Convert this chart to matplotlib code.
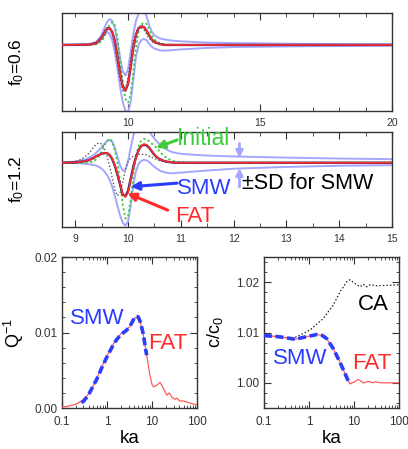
import matplotlib
matplotlib.use("Agg")
import matplotlib.pyplot as plt
from matplotlib.ticker import MultipleLocator, LogLocator, NullFormatter, FormatStrFormatter, FixedLocator

plt.rcParams['font.family'] = ['Liberation Sans', 'DejaVu Sans']
plt.rcParams['mathtext.fontset'] = 'custom'
plt.rcParams['mathtext.rm'] = 'Liberation Sans'
plt.rcParams['mathtext.it'] = 'Liberation Sans'

# ---------------- data: panel 1 (f0 = 0.6) ----------------
x1 = [7.5, 8.5, 8.8, 9.0, 9.1, 9.2, 9.3, 9.4, 9.5, 9.6, 9.7, 9.8, 9.9, 10.0, 10.1, 10.2, 10.3, 10.4,
      10.5, 10.6, 10.7, 10.8, 10.9, 11.0, 11.2, 11.4, 11.7, 12, 13, 14, 15, 16, 17, 18, 19, 20]
init1 = [0, 0, 0.01, 0.06, 0.13, 0.24, 0.34, 0.38, 0.33, 0.12, -0.25, -0.62, -0.9, -0.96, -0.82, -0.45,
         -0.05, 0.22, 0.34, 0.37, 0.35, 0.26, 0.16, 0.09, 0.03, 0.01, 0, 0, 0, 0, 0, 0, 0, 0, 0, 0]
fat1 = [0, 0.005, 0.03, 0.12, 0.2, 0.27, 0.28, 0.22, 0.06, -0.2, -0.48, -0.7, -0.76, -0.64, -0.36, -0.04,
        0.18, 0.28, 0.31, 0.30, 0.24, 0.16, 0.09, 0.05, 0.015, 0.0, 0, 0, 0, 0, 0, 0, 0, 0, 0, 0]
smw1 = [0, 0.005, 0.03, 0.12, 0.2, 0.27, 0.28, 0.22, 0.07, -0.19, -0.47, -0.69, -0.76, -0.65, -0.37, -0.05,
        0.17, 0.28, 0.31, 0.30, 0.24, 0.16, 0.09, 0.05, 0.015, 0.0, 0, 0, 0, 0, 0, 0, 0, 0, 0, 0]
ca1 = [0, 0.006, 0.04, 0.14, 0.23, 0.29, 0.28, 0.18, -0.02, -0.3, -0.58, -0.76, -0.74, -0.55, -0.24, 0.06,
       0.22, 0.29, 0.29, 0.25, 0.18, 0.11, 0.06, 0.03, 0.01, 0.0, 0, 0, 0, 0, 0, 0, 0, 0, 0, 0]
sdup1 = [0.0, 0.01, 0.05, 0.17, 0.28, 0.38, 0.43, 0.4, 0.28, 0.05, -0.22, -0.44, -0.51, -0.4, -0.12, 0.18,
         0.4, 0.52, 0.58, 0.58, 0.48, 0.33, 0.22, 0.16, 0.11, 0.09, 0.07, 0.06, 0.04, 0.03, 0.025, 0.02,
         0.018, 0.015, 0.013, 0.012]
sdlo1 = [0, 0.0, 0.02, 0.1, 0.17, 0.21, 0.19, 0.08, -0.12, -0.4, -0.7, -0.95, -1.1, -1.12, -0.95, -0.58,
         -0.2, 0.0, 0.08, 0.1, 0.08, 0.02, -0.03, -0.06, -0.09, -0.095, -0.085, -0.075, -0.05, -0.035,
         -0.03, -0.025, -0.02, -0.018, -0.015, -0.013]

# ---------------- data: panel 2 (f0 = 1.2) ----------------
x2 = [8.75, 9.0, 9.1, 9.20, 9.25, 9.30, 9.35, 9.40, 9.45, 9.50, 9.55, 9.60, 9.65, 9.70, 9.75, 9.80,
      9.85, 9.90, 9.95, 10.00, 10.05, 10.10, 10.15, 10.20, 10.25, 10.30, 10.35, 10.40, 10.45, 10.50,
      10.55, 10.60, 10.65, 10.70, 10.75, 10.80, 10.85, 10.90, 11.0, 11.2, 11.5, 12, 13, 14, 15]
init2 = [0, 0, 0, 0.0, 0.005, 0.01, 0.025, 0.06, 0.11, 0.19, 0.28, 0.36, 0.40, 0.36, 0.2, 0.0,
         -0.32, -0.7, -0.93, -0.9, -0.62, -0.2, 0.1, 0.28, 0.37, 0.40, 0.39, 0.36, 0.32, 0.28,
         0.24, 0.19, 0.14, 0.1, 0.07, 0.05, 0.03, 0.02, 0.01, 0.0, 0, 0, 0, 0, 0]
fat2 = [0, 0.005, 0.015, 0.03, 0.04, 0.06, 0.08, 0.11, 0.13, 0.15, 0.16, 0.16, 0.14, 0.07, -0.04, -0.18,
        -0.35, -0.52, -0.57, -0.5, -0.3, -0.08, 0.08, 0.2, 0.28, 0.31, 0.3, 0.26, 0.2, 0.14,
        0.09, 0.06, 0.04, 0.025, 0.015, 0.01, 0.005, 0.0, 0, 0, 0, 0, 0, 0, 0]
smw2 = [0, 0.005, 0.015, 0.03, 0.04, 0.06, 0.08, 0.11, 0.13, 0.15, 0.16, 0.16, 0.13, 0.06, -0.05, -0.2,
        -0.37, -0.53, -0.56, -0.47, -0.27, -0.06, 0.09, 0.21, 0.28, 0.3, 0.29, 0.25, 0.19, 0.13,
        0.09, 0.06, 0.04, 0.025, 0.015, 0.01, 0.005, 0.0, 0, 0, 0, 0, 0, 0, 0]
ca2 = [0, 0.02, 0.05, 0.11, 0.15, 0.2, 0.26, 0.31, 0.33, 0.31, 0.24, 0.12, -0.05, -0.25, -0.45, -0.55,
       -0.5, -0.32, -0.12, 0.02, 0.08, 0.11, 0.13, 0.14, 0.14, 0.14, 0.13, 0.11, 0.09, 0.07,
       0.05, 0.035, 0.02, 0.01, 0.005, 0, 0, 0, 0, 0, 0, 0, 0, 0, 0]
sdup2 = [0.0, 0.02, 0.04, 0.06, 0.08, 0.1, 0.13, 0.17, 0.21, 0.26, 0.31, 0.36, 0.38, 0.35, 0.25, 0.1,
         -0.05, -0.13, -0.12, 0.02, 0.25, 0.45, 0.58, 0.64, 0.66, 0.64, 0.58, 0.52, 0.46, 0.4,
         0.35, 0.31, 0.27, 0.24, 0.21, 0.19, 0.175, 0.165, 0.15, 0.135, 0.12, 0.105, 0.085, 0.07, 0.06]
sdlo2 = [0, -0.005, -0.01, -0.02, -0.025, -0.03, -0.04, -0.05, -0.07, -0.1, -0.14, -0.2, -0.28, -0.4,
         -0.55, -0.72, -0.88, -1.0, -1.05, -0.98, -0.72, -0.38, -0.14, -0.02, 0.03, 0.05, 0.04, 0.01,
         -0.03, -0.07, -0.1, -0.13, -0.15, -0.16, -0.17, -0.175, -0.175, -0.17, -0.165, -0.15, -0.13,
         -0.1, -0.07, -0.05, -0.04]

# ---------------- data: panel 3 (Q^-1) ----------------
ka_fat_q = [0.1, 0.15, 0.2, 0.25, 0.3, 0.35, 0.4, 0.5, 0.6, 0.7, 0.8, 1.0, 1.3, 1.6, 2.0, 2.7, 3.2, 3.7,
            4.2, 4.9, 5.5, 6.4, 7.6, 9.0, 10.0, 10.7, 12.7, 15, 16.5, 17.8, 21.3, 24.2, 27.4, 32.5,
            35.3, 42, 48, 58.5, 75, 100]
q_fat = [0.0001, 0.0003, 0.0005, 0.0008, 0.0011, 0.0015, 0.002, 0.003, 0.004, 0.0049, 0.0057, 0.0069,
         0.0082, 0.0091, 0.0098, 0.0104, 0.0108, 0.0114, 0.0120, 0.0120, 0.0113, 0.0097, 0.007,
         0.0043, 0.0031, 0.0028, 0.003, 0.0034, 0.003, 0.0026, 0.0017, 0.002, 0.00146, 0.00115,
         0.0013, 0.0009, 0.00095, 0.0008, 0.0006, 0.0004]
ka_smw_q = [0.27, 0.3, 0.35, 0.4, 0.5, 0.6, 0.7, 0.8, 1.0, 1.3, 1.6, 2.0, 2.7, 3.2, 3.7, 4.2, 4.9, 5.5,
            6.4, 7.2, 7.6]
q_smw = [0.0007, 0.0009, 0.0014, 0.0019, 0.003, 0.0039, 0.0048, 0.0056, 0.0068, 0.0081, 0.009, 0.0097,
         0.0103, 0.0108, 0.0115, 0.0121, 0.0121, 0.0114, 0.0098, 0.0078, 0.007]

# ---------------- data: panel 4 (c/c0) ----------------
ka_ca = [0.1, 0.2, 0.3, 0.45, 0.63, 1.05, 2.08, 3.47, 4.9, 6.9, 8.1, 11.5, 13.6, 16.1, 19, 22.7, 31.9, 100]
c_ca = [1.0094, 1.0092, 1.0090, 1.0089, 1.0095, 1.0105, 1.0128, 1.0155, 1.0181, 1.0201, 1.0205, 1.0195,
        1.0191, 1.0196, 1.0191, 1.0195, 1.0193, 1.0195]
ka_fat_c = [0.1, 0.2, 0.3, 0.49, 0.8, 1.48, 2.0, 2.47, 3.47, 4.88, 6.87, 8.1, 9.7, 12.5, 16, 20.9, 26,
            30, 40, 100]
c_fat = [1.0094, 1.0092, 1.0090, 1.00866, 1.0091, 1.0096, 1.0094, 1.0088, 1.0068, 1.0041, 1.0011,
         0.9998, 1.0001, 1.0007, 1.0000, 1.0003, 1.0000, 1.0002, 1.0000, 1.0000]
ka_smw_c = [0.1, 0.2, 0.3, 0.49, 0.8, 1.48, 2.0, 2.47, 3.47, 4.88, 6.87, 8.0]
c_smw = [1.0094, 1.0092, 1.0090, 1.00866, 1.0091, 1.0096, 1.0094, 1.0088, 1.0068, 1.0041, 1.0011, 0.9998]

# ---------------- styles ----------------
C_SD = '#a4a6ff'
C_GREEN = '#3ccc3c'
C_RED = '#ff2a2a'
C_RED_LIGHT = '#ff5a5a'
C_BLUE = '#2a3cff'
C_NAVY = '#3a2a70'
C_GRAY = '#555555'
C_FRAME = '#333333'

fig = plt.figure(figsize=(4.08, 4.49), dpi=100)
ax1 = fig.add_axes([0.152, 0.7535, 0.809, 0.217])
ax2 = fig.add_axes([0.152, 0.4944, 0.809, 0.2122])
ax3 = fig.add_axes([0.152, 0.0913, 0.331, 0.336])
ax4 = fig.add_axes([0.647, 0.0913, 0.331, 0.336])

for ax in (ax1, ax2, ax3, ax4):
    for s in ax.spines.values():
        s.set_color(C_FRAME)
        s.set_linewidth(1.0)


def waveform(ax, x, sdu, sdl, ca, init, smw, fat):
    ax.plot(x, sdu, color=C_SD, lw=1.4, zorder=2)
    ax.plot(x, sdl, color=C_SD, lw=1.4, zorder=2)
    ax.plot(x, ca, color=C_GRAY, lw=0.9, ls=(0, (1.2, 1.6)), zorder=3)
    ax.plot(x, init, color=C_GREEN, lw=1.3, ls=(0, (1.2, 1.4)), zorder=3)
    ax.plot(x, smw, color=C_NAVY, lw=1.7, zorder=4)
    ax.plot(x, fat, color=C_RED, lw=1.2, zorder=5)
    ax.set_yticks([])
    ax.tick_params(axis='x', which='both', direction='in', top=True, bottom=True,
                   labelsize=7.5, colors=C_FRAME, pad=5)
    ax.tick_params(axis='x', which='major', length=5)
    ax.tick_params(axis='x', which='minor', length=3)


waveform(ax1, x1, sdup1, sdlo1, ca1, init1, smw1, fat1)
ax1.set_xlim(7.5, 20)
ax1.set_ylim(-1.095, 0.528)
ax1.xaxis.set_major_locator(FixedLocator([10, 15, 20]))
ax1.xaxis.set_minor_locator(MultipleLocator(1))
ax1.set_ylabel('f$_0$=0.6', fontsize=12.5)
ax1.yaxis.set_label_coords(-0.11, 0.5)

waveform(ax2, x2, sdup2, sdlo2, ca2, init2, smw2, fat2)
ax2.set_xlim(8.75, 15)
ax2.set_ylim(-1.072, 0.517)
ax2.xaxis.set_major_locator(MultipleLocator(1))
ax2.xaxis.set_minor_locator(MultipleLocator(0.5))
ax2.set_ylabel('f$_0$=1.2', fontsize=12.5)
ax2.yaxis.set_label_coords(-0.11, 0.5)

# annotations panel 2
ax2.text(10.93, 0.41, 'Initial', color=C_GREEN, fontsize=16.5, va='center', ha='left', zorder=6)
ax2.annotate('', xy=(10.53, 0.25), xytext=(10.93, 0.38),
             arrowprops=dict(arrowstyle='-|>', color=C_GREEN, lw=2.2, mutation_scale=12,
                             shrinkA=0, shrinkB=0), zorder=6)
ax2.text(10.93, -0.43, 'SMW', color=C_BLUE, fontsize=16, va='center', ha='left', zorder=6)
ax2.annotate('', xy=(10.05, -0.40), xytext=(10.93, -0.34),
             arrowprops=dict(arrowstyle='-|>', color=C_BLUE, lw=2.2, mutation_scale=12,
                             shrinkA=0, shrinkB=0), zorder=6)
ax2.text(10.9, -0.9, 'FAT', color=C_RED, fontsize=16, va='center', ha='left', zorder=6)
ax2.annotate('', xy=(9.99, -0.51), xytext=(10.75, -0.79),
             arrowprops=dict(arrowstyle='-|>', color=C_RED, lw=2.2, mutation_scale=12,
                             shrinkA=0, shrinkB=0), zorder=6)
ax2.text(12.16, -0.34, '±SD for SMW', color='black', fontsize=15.5, va='center', ha='left', zorder=6)
ax2.annotate('', xy=(12.11, 0.08), xytext=(12.11, 0.32),
             arrowprops=dict(arrowstyle='-|>', color=C_SD, lw=2.0, mutation_scale=10,
                             shrinkA=0, shrinkB=0), zorder=6)
ax2.annotate('', xy=(12.11, -0.09), xytext=(12.11, -0.40),
             arrowprops=dict(arrowstyle='-|>', color=C_SD, lw=2.0, mutation_scale=10,
                             shrinkA=0, shrinkB=0), zorder=6)

# ---------------- panel 3 ----------------
ax3.plot(ka_fat_q, q_fat, color=C_RED_LIGHT, lw=0.9, zorder=3)
ax3.plot(ka_smw_q, q_smw, color=C_BLUE, lw=2.6, ls=(0, (2.2, 1.0)), zorder=4)
ax3.set_xscale('log')
ax3.set_xlim(0.1, 100)
ax3.set_ylim(0, 0.02)
ax3.set_yticks([0, 0.01, 0.02])
ax3.yaxis.set_major_formatter(FormatStrFormatter('%.2f'))
ax3.yaxis.set_minor_locator(MultipleLocator(0.002))
ax3.set_xticks([0.1, 1, 10, 100])
ax3.set_xticklabels(['0.1', '1', '10', '100'])
ax3.xaxis.set_minor_locator(LogLocator(base=10, subs=range(2, 10)))
ax3.xaxis.set_minor_formatter(NullFormatter())
ax3.set_ylabel('Q$^{-1}$', fontsize=13)
ax3.yaxis.set_label_coords(-0.27, 0.5)
ax3.set_xlabel('ka', fontsize=13.5, labelpad=1)
ax3.text(0.15, 0.0119, 'SMW', color=C_BLUE, fontsize=16, va='center', ha='left', zorder=6)
ax3.text(8.3, 0.00855, 'FAT', color=C_RED, fontsize=16, va='center', ha='left', zorder=6)

# ---------------- panel 4 ----------------
ax4.plot(ka_ca, c_ca, color='#222222', lw=0.9, ls=(0, (1.2, 1.6)), zorder=3)
ax4.plot(ka_fat_c, c_fat, color=C_RED_LIGHT, lw=0.9, zorder=3)
ax4.plot(ka_smw_c, c_smw, color=C_BLUE, lw=2.6, ls=(0, (2.2, 1.0)), zorder=4)
ax4.set_xscale('log')
ax4.set_xlim(0.1, 100)
ax4.set_ylim(0.995, 1.025)
ax4.set_yticks([1.00, 1.01, 1.02])
ax4.yaxis.set_major_formatter(FormatStrFormatter('%.2f'))
ax4.yaxis.set_minor_locator(MultipleLocator(0.002))
ax4.set_xticks([0.1, 1, 10, 100])
ax4.set_xticklabels(['0.1', '1', '10', '100'])
ax4.xaxis.set_minor_locator(LogLocator(base=10, subs=range(2, 10)))
ax4.xaxis.set_minor_formatter(NullFormatter())
ax4.set_ylabel('c/c$_0$', fontsize=13)
ax4.yaxis.set_label_coords(-0.29, 0.5)
ax4.set_xlabel('ka', fontsize=13.5, labelpad=1)
ax4.text(12.5, 1.0155, 'CA', color='black', fontsize=16, va='center', ha='left', zorder=6)
ax4.text(0.161, 1.0048, 'SMW', color=C_BLUE, fontsize=16, va='center', ha='left', zorder=6)
ax4.text(8.9, 1.0038, 'FAT', color=C_RED, fontsize=16, va='center', ha='left', zorder=6)

for ax in (ax3, ax4):
    ax.tick_params(which='both', direction='in', top=True, right=True, colors=C_FRAME,
                   labelsize=8.5)
    ax.tick_params(which='major', length=5)
    ax.tick_params(which='minor', length=2.5)
    ax.tick_params(axis='x', pad=6)

fig.savefig('out.png', dpi=100)
